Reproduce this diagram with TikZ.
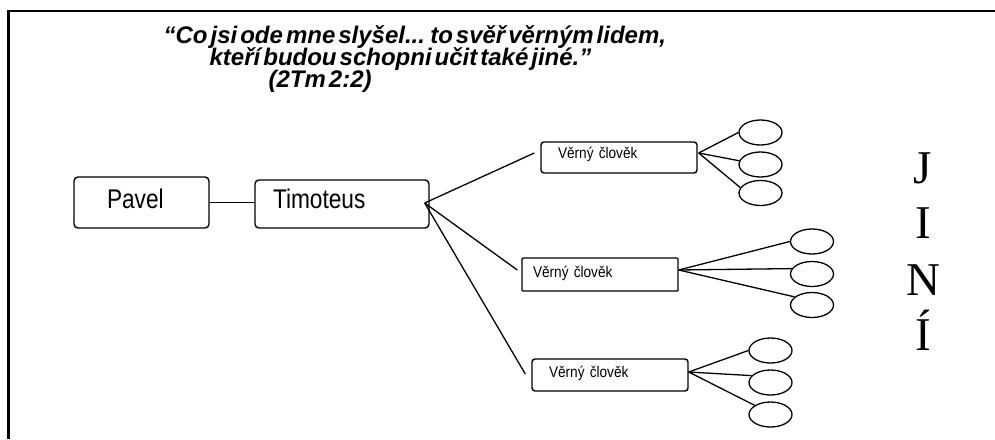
\documentclass[tikz,border=0pt]{standalone}
\usepackage{fontspec}
\usetikzlibrary{shapes.geometric,calc}
\newfontfamily\quotefont[WordSpace=0.45]{Liberation Sans}
\newfontfamily\boxfont[FakeStretch=0.84]{Liberation Sans}
\newfontfamily\smallfont[FakeStretch=0.88]{Liberation Sans}
\newfontfamily\seriffont{Liberation Serif}
\begin{document}
\begin{tikzpicture}[x=1pt,y=-1pt,line width=1.3pt,
  bigbox/.style={draw,rounded corners=4pt,line width=1.4pt,align=left,inner ysep=0pt,
    font=\boxfont\fontsize{27}{30}\selectfont},
  smallbox/.style={draw,rounded corners=3pt,line width=1.4pt,align=left,inner ysep=0pt,
    minimum height=32pt,font=\smallfont\fontsize{15.5}{18}\selectfont},
  oval/.style={draw,ellipse,minimum width=43pt,minimum height=25pt,inner sep=0pt,line width=1.3pt},
  quote/.style={anchor=base west,inner sep=0pt,font=\quotefont\bfseries\itshape\fontsize{24}{26}\selectfont},
  letter/.style={anchor=base,inner sep=0pt,font=\seriffont\fontsize{47}{50}\selectfont}]
\useasboundingbox (0,0) rectangle (995,439);
\draw[line width=2.7pt] (8.5,439) -- (8.5,11) -- (995,11);
% quote
\node[quote] (q1) at (163,43) {“Co jsi ode mne slyšel... to svěř věrným lidem,};
\node[quote] (q2) at (209,65) {kteří budou schopni učit také jiné.”};
\node[quote] (q3) at (268,87) {(2Tm 2:2)};
% main boxes
\node[bigbox,minimum height=51pt,text width=69pt,inner xsep=33pt,text height=13pt,text depth=2pt] (pavel) at (141.5,202.5) {Pavel};
\node[bigbox,minimum height=48pt,text width=138pt,inner xsep=18pt,text height=10pt,text depth=2pt] (timoteus) at (342,204) {Timoteus};
\draw (pavel.east) -- (pavel.east -| timoteus.west);
% faithful people
\node[smallbox,text width=122pt,inner xsep=17pt,minimum height=31pt,text height=3pt,text depth=2pt] (v1) at (619,157.5) {Věrný člověk};
\node[smallbox,rounded corners=1pt,text width=134pt,inner xsep=11pt,minimum height=33pt,text height=7pt,text depth=2pt] (v2) at (600,274.5) {Věrný člověk};
\node[smallbox,text width=122pt,inner xsep=17pt,minimum height=32pt,text height=6pt,text depth=2pt] (v3) at (610,375) {Věrný člověk};
\coordinate (tfan) at ($(timoteus.east)+(-5,-1)$);
\coordinate (v1in) at ($(v1.west)+(-6,-4.5)$);
\coordinate (v2in) at ($(v2.west)+(-4,-4.5)$);
\coordinate (v3in) at ($(v3.west)+(-6,-1)$);
\draw (tfan) -- (v1in);
\draw (tfan) -- (v2in);
\draw (tfan) -- (v3in);
% others
\node[oval] (e11) at (760.5,132.5) {};
\node[oval] (e12) at (760.5,164.5) {};
\node[oval] (e13) at (760.5,193) {};
\node[oval] (e21) at (812,241.5) {};
\node[oval] (e22) at (812,274) {};
\node[oval] (e23) at (812,305) {};
\node[oval] (e31) at (770.5,350.5) {};
\node[oval] (e32) at (770.5,382.5) {};
\node[oval] (e33) at (770.5,414.5) {};
\coordinate (v1out) at ($(v1.east)+(1,-4.5)$);
\coordinate (v2out) at ($(v2.east)+(0,-4.5)$);
\coordinate (v3out) at ($(v3.east)+(0,-3)$);
\draw (v1out) -- (e11.west);
\draw (v1out) -- (e12.170);
\draw (v1out) -- (e13.165);
\draw (v2out) -- (e21.west);
\draw (v2out) -- (e22.165);
\draw (v2out) -- (e23.155);
\draw (v3out) -- (e31.west);
\draw (v3out) -- (e32.160);
\draw (v3out) -- (e33.150);
% JINI
\node[letter] (j) at (923,183) {J};
\node[letter] (i) at (923,238) {I};
\node[letter] (n) at (923,295) {N};
\node[letter] (ii) at (923,350) {Í};
\end{tikzpicture}
\end{document}
